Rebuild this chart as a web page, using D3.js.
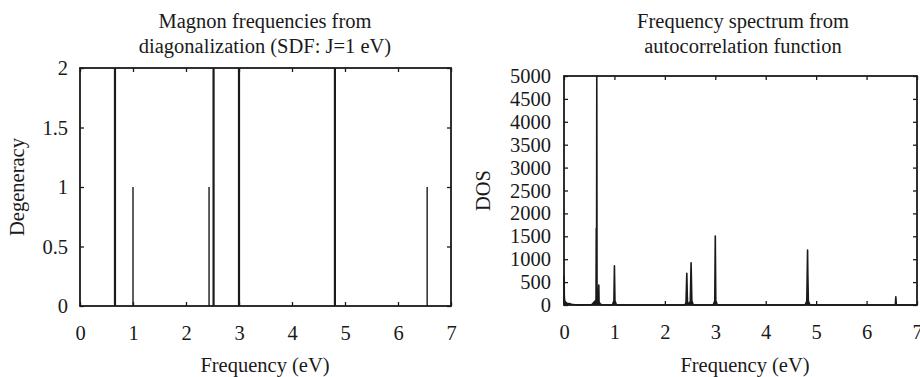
<!DOCTYPE html>
<html>
<head>
<meta charset="utf-8">
<script src="https://cdn.jsdelivr.net/npm/d3@7"></script>
<style>
  body { margin: 0; background: #fff; }
</style>
</head>
<body>
<svg id="chart" width="920" height="377"></svg>
<script>
// left panel: magnon frequencies (eV) and their degeneracy
const magnonFreq = [0.66, 1.0, 2.435, 2.52, 3.0, 4.81, 6.55];
const magnonDeg  = [2, 1, 1, 2, 2, 2, 1];
const degTicks = [0, 0.5, 1, 1.5, 2];

// right panel: spectrum from autocorrelation function
const specFreq = [0.000, 0.002, 0.006, 0.012, 0.03, 0.06, 0.10, 0.15, 0.20, 0.30, 0.45, 0.55, 0.58, 0.60, 0.62,
  0.635, 0.640, 0.645, 0.650, 0.655, 0.66, 0.68, 0.69, 0.695, 0.72, 0.75,
  0.96, 0.975, 0.99, 1.00, 1.01, 1.025, 1.04,
  2.40, 2.42, 2.435, 2.445, 2.45, 2.49, 2.505, 2.52, 2.535, 2.55, 2.56,
  2.96, 2.975, 2.99, 3.00, 3.01, 3.025, 3.04,
  4.78, 4.80, 4.815, 4.83, 4.835, 4.845, 4.86, 4.88,
  6.57, 6.58, 6.59, 7.0];
const specDos = [0, 633, 200, 100, 60, 40, 30, 15, 8, 3, 5, 10, 40, 70, 90,
  110, 1675, 130, 5000, 150, 110, 90, 437, 70, 20, 5,
  0, 50, 90, 858, 90, 50, 0,
  0, 60, 692, 200, 40, 40, 90, 923, 90, 50, 0,
  0, 50, 90, 1506, 90, 50, 0,
  0, 50, 90, 1200, 700, 90, 50, 0,
  0, 181, 0, 0];
const dosTicks = d3.range(0, 5001, 500);
const freqTicks = d3.range(0, 8);

const svg = d3.select('#chart');
const ink = '#1a1a1a';
const serif = '"Liberation Serif", "Times New Roman", serif';
const fontSize = 20.5;

function panel(opts) {
  const x = d3.scaleLinear().domain([0, 7]).range([opts.left, opts.right]);
  const y = d3.scaleLinear().domain(opts.yDomain).range([opts.bottom, opts.top]);
  const g = svg.append('g');

  // marks first, frame on top
  opts.draw(g, x, y);

  const bottomAxis = g.append('g')
    .attr('transform', `translate(0,${opts.bottom})`)
    .call(d3.axisBottom(x).tickValues(freqTicks).tickSize(-4).tickFormat(d3.format('d')));
  bottomAxis.selectAll('text').attr('y', 34).attr('dy', null);

  g.append('g')
    .attr('transform', `translate(${opts.left},0)`)
    .call(d3.axisLeft(y).tickValues(opts.yTicks).tickSize(-4).tickPadding(opts.pad).tickFormat(opts.fmt));

  g.append('g').attr('transform', `translate(0,${opts.top})`)
    .call(d3.axisTop(x).tickValues(freqTicks).tickSize(-4).tickFormat(''));
  g.append('g').attr('transform', `translate(${opts.right},0)`)
    .call(d3.axisRight(y).tickValues(opts.yTicks).tickSize(-4).tickFormat(''));

  g.selectAll('.domain').remove();
  g.selectAll('.tick line').attr('stroke', ink).attr('stroke-width', 1.3);

  g.append('rect')
    .attr('x', opts.left).attr('y', opts.top)
    .attr('width', opts.right - opts.left).attr('height', opts.bottom - opts.top)
    .attr('fill', 'none').attr('stroke', ink).attr('stroke-width', 1.8);

  const title = g.append('text')
    .attr('text-anchor', 'middle');
  opts.title.forEach((t, i) => {
    title.append('tspan').attr('x', opts.titleX).attr('y', 28 + i * 25).text(t);
  });

  g.append('text')
    .attr('x', opts.xLabelX).attr('y', 372)
    .attr('text-anchor', 'middle')
    .text('Frequency (eV)');

  g.append('text')
    .attr('transform', `translate(${opts.yLabelX},${(opts.top + opts.bottom) / 2}) rotate(-90)`)
    .attr('text-anchor', 'middle')
    .text(opts.yLabel);

  g.selectAll('text')
    .style('font-family', serif)
    .style('font-size', fontSize + 'px')
    .style('fill', ink);
}

panel({
  left: 80, right: 451, top: 68, bottom: 306,
  yDomain: [0, 2], yTicks: degTicks, fmt: d3.format('~g'), pad: 12,
  title: ['Magnon frequencies from', 'diagonalization (SDF: J=1 eV)'],
  titleX: 265, xLabelX: 265, yLabelX: 24, yLabel: 'Degeneracy',
  draw: (g, x, y) => {
    g.selectAll('line.mode')
      .data(magnonFreq.map((f, i) => ({ f, d: magnonDeg[i] })))
      .join('line')
      .attr('class', 'mode')
      .attr('x1', d => x(d.f)).attr('x2', d => x(d.f))
      .attr('y1', y(0)).attr('y2', d => y(d.d))
      .attr('stroke', ink)
      .attr('stroke-width', d => d.d > 1 ? 2.2 : 1.4);
  }
});

panel({
  left: 564, right: 917, top: 76, bottom: 305,
  yDomain: [0, 5000], yTicks: dosTicks, fmt: d3.format('d'), pad: 13,
  title: ['Frequency spectrum from', 'autocorrelation function'],
  titleX: 743, xLabelX: 745, yLabelX: 490, yLabel: 'DOS',
  draw: (g, x, y) => {
    const pts = specFreq.map((f, i) => [f, specDos[i]]);
    g.append('path')
      .datum(pts)
      .attr('fill', ink)
      .attr('stroke', ink)
      .attr('stroke-width', 1.6)
      .attr('stroke-linejoin', 'round')
      .attr('d', d3.line().x(d => x(d[0])).y(d => y(d[1])));
  }
});
</script>
</body>
</html>
